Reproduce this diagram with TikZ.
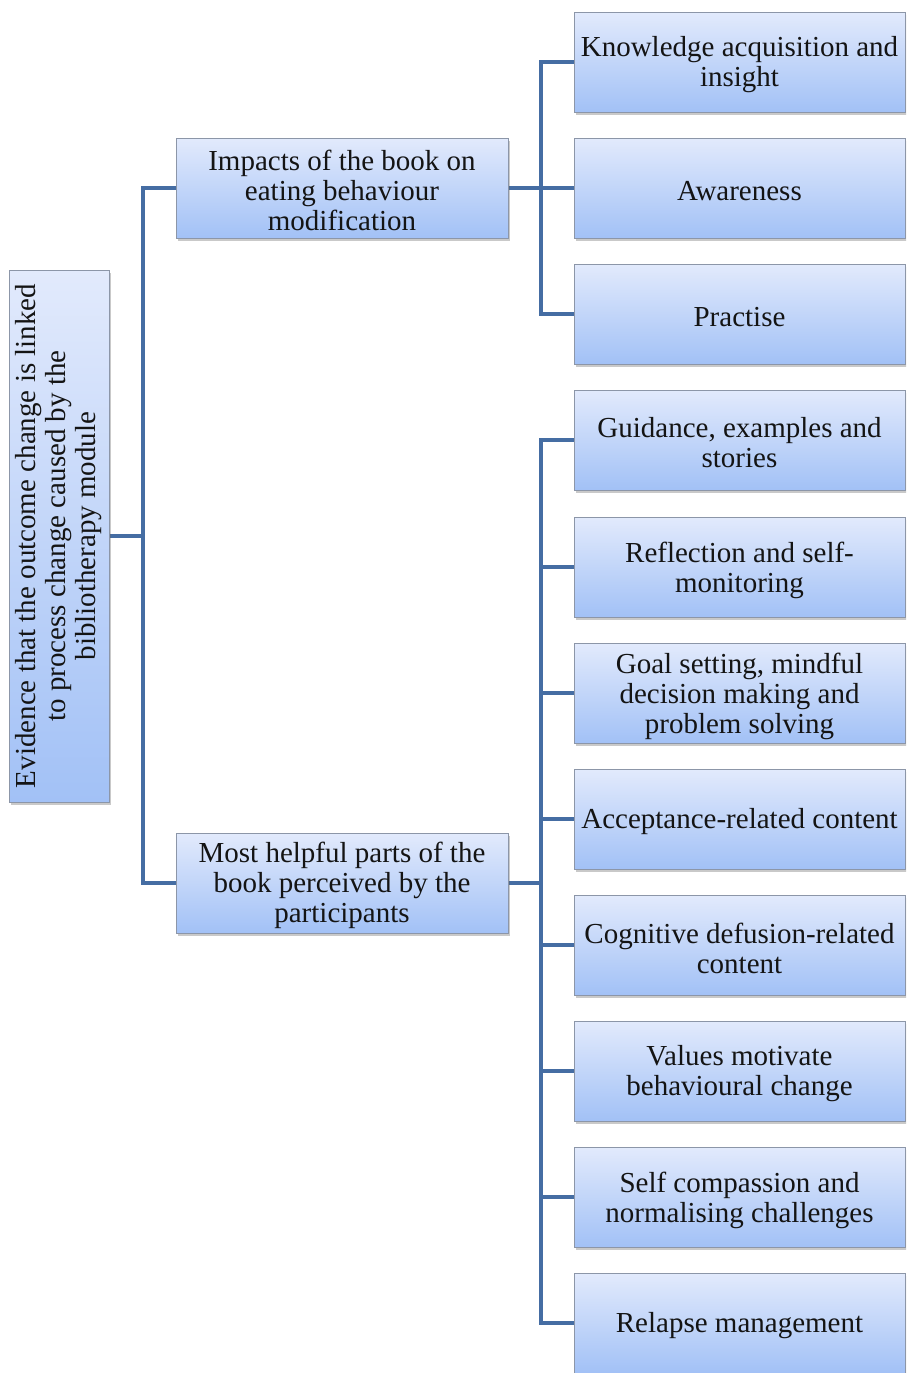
\documentclass[tikz,border=0pt]{standalone}
\usepackage{fontspec}
\setmainfont{Liberation Serif}
\usetikzlibrary{shadows,backgrounds}
\definecolor{boxtop}{RGB}{226,234,252}
\definecolor{boxbot}{RGB}{162,193,246}
\definecolor{boxborder}{RGB}{140,150,168}
\definecolor{connc}{RGB}{69,109,163}
\definecolor{txt}{RGB}{20,20,20}
\begin{document}
\begin{tikzpicture}[x=1pt,y=-1pt,
  every node/.style={text=txt},
  boxbase/.style={draw=boxborder, line width=1pt, top color=boxtop, bottom color=boxbot,
    drop shadow={shadow xshift=2pt, shadow yshift=-3pt, opacity=0.35, fill=black!60}},
  leafbox/.style={boxbase, minimum width=331pt, minimum height=100pt},
  midbox/.style={boxbase, minimum width=332pt, minimum height=100pt},
  lbl/.style={align=center, inner sep=0pt, font=\fontsize{29}{30}\selectfont},
  conn/.style={draw=connc, line width=4pt}]
\clip (0,0) rectangle (906,1373);
\useasboundingbox (0,0) rectangle (906,1373);
\node[boxbase, minimum width=100pt, minimum height=532pt] (root) at (59,536) {};
\node[lbl, rotate=90] (roottxt) at (root.center)
  {Evidence that the outcome change is linked\\to process change caused by the\\bibliotherapy module};
\node[midbox] (m1) at (342,188) {};
\node[midbox] (m2) at (342,883) {};
\node[lbl] (m1t) at ([yshift=-2pt]m1.center) {Impacts of the book on\\eating behaviour\\modification};
\node[lbl] (m2t) at ([yshift=-2pt]m2.center) {Most helpful parts of the\\book perceived by the\\participants};
\node[leafbox] (a1) at (739.5,62) {};
\node[leafbox] (a2) at (739.5,188) {};
\node[leafbox] (a3) at (739.5,314) {};
\node[leafbox] (b1) at (739.5,440) {};
\node[leafbox] (b2) at (739.5,567) {};
\node[leafbox] (b3) at (739.5,693) {};
\node[leafbox] (b4) at (739.5,819) {};
\node[leafbox] (b5) at (739.5,945) {};
\node[leafbox] (b6) at (739.5,1071) {};
\node[leafbox] (b7) at (739.5,1197) {};
\node[leafbox] (b8) at (739.5,1323) {};
\node[lbl] (a1t) at ([yshift=-3pt]a1.center) {Knowledge acquisition and\\insight};
\node[lbl] (a2t) at ([yshift=-3pt]a2.center) {Awareness};
\node[lbl] (a3t) at ([yshift=-3pt]a3.center) {Practise};
\node[lbl] (b1t) at ([yshift=-3pt]b1.center) {Guidance, examples and\\stories};
\node[lbl] (b2t) at ([yshift=-3pt]b2.center) {Reflection and self-\\monitoring};
\node[lbl] (b3t) at ([yshift=-3pt]b3.center) {Goal setting, mindful\\decision making and\\problem solving};
\node[lbl] (b4t) at ([yshift=-3pt]b4.center) {Acceptance-related content};
\node[lbl] (b5t) at ([yshift=-3pt]b5.center) {Cognitive defusion-related\\content};
\node[lbl] (b6t) at ([yshift=-3pt]b6.center) {Values motivate\\behavioural change};
\node[lbl] (b7t) at ([yshift=-3pt]b7.center) {Self compassion and\\normalising challenges};
\node[lbl] (b8t) at ([yshift=-3pt]b8.center) {Relapse management};
\coordinate (j0) at (143,536);
\coordinate (j1) at (541,188);
\coordinate (j2) at (541,883);
\begin{pgfonlayer}{background}
\fill[white] (0,0) rectangle (906,1373);
\draw[conn] (root.east) -- (j0);
\draw[conn] (m1.west) -- (m1.west -| j0) -- (m2.west -| j0) -- (m2.west);
\draw[conn] (m1.east) -- (j1);
\draw[conn] (a1.west) -- (a1.west -| j1) -- (a3.west -| j1) -- (a3.west);
\draw[conn] (a2.west) -- (j1);
\draw[conn] (m2.east) -- (j2);
\draw[conn] (b1.west) -- (b1.west -| j2) -- (b8.west -| j2) -- (b8.west);
\foreach \n in {b2,b3,b4,b5,b6,b7} \draw[conn] (\n.west) -- (\n.west -| j2);
\end{pgfonlayer}
\end{tikzpicture}
\end{document}
